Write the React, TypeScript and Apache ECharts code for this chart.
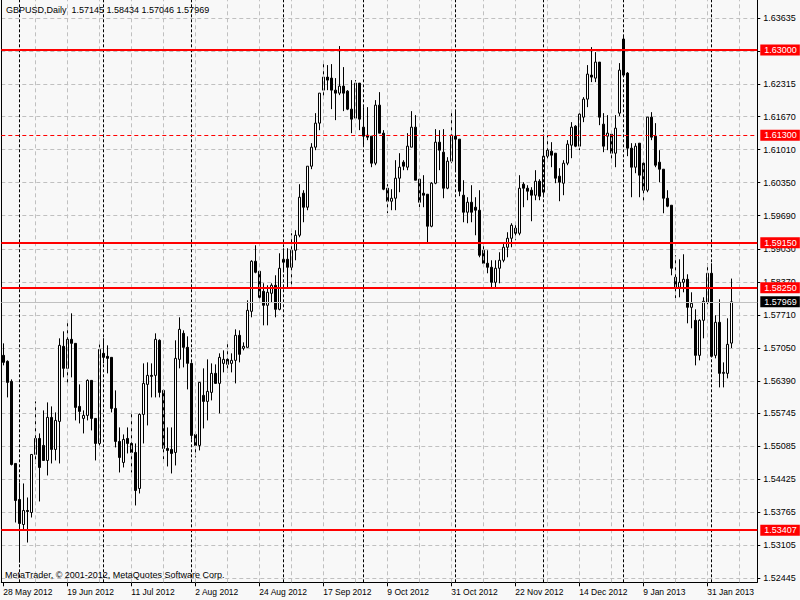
import React, { useEffect, useRef } from "react";
import * as echarts from "echarts";

const symbolName = "GBPUSD,Daily";
const copyright = "MetaTrader, \u00a9 2001-2012, MetaQuotes Software Corp.";

const opens = [
  1.5690, 1.5678, 1.5638, 1.5474, 1.5402, 1.5352, 1.5380, 1.5376, 1.5492, 1.5524,
  1.5510, 1.5480, 1.5566, 1.5502, 1.5558, 1.5708, 1.5664, 1.5722, 1.5714, 1.5588,
  1.5564, 1.5570, 1.5640, 1.5564, 1.5514, 1.5694, 1.5688, 1.5686, 1.5584, 1.5518,
  1.5476, 1.5524, 1.5514, 1.5496, 1.5424, 1.5572, 1.5632, 1.5650, 1.5650, 1.5720,
  1.5620, 1.5504, 1.5502, 1.5496, 1.5682, 1.5734, 1.5706, 1.5674, 1.5532, 1.5510,
  1.5610, 1.5598, 1.5616, 1.5654, 1.5634, 1.5674, 1.5682, 1.5674, 1.5680, 1.5730,
  1.5704, 1.5706, 1.5778, 1.5878, 1.5858, 1.5818, 1.5790, 1.5814, 1.5830, 1.5782,
  1.5876, 1.5882, 1.5866, 1.5900, 1.5930, 1.6014, 1.5986, 1.6068, 1.6106, 1.6154,
  1.6220, 1.6246, 1.6244, 1.6220, 1.6214, 1.6228, 1.6218, 1.6182, 1.6164, 1.6234,
  1.6146, 1.6130, 1.6128, 1.6074, 1.6190, 1.6134, 1.6024, 1.5998, 1.6004, 1.6044,
  1.6076, 1.6066, 1.6106, 1.6146, 1.6042, 1.6014, 1.6012, 1.5948, 1.6034, 1.6116,
  1.6096, 1.6024, 1.6078, 1.6128, 1.6122, 1.6010, 1.5976, 1.5996, 1.5986, 1.5980,
  1.5900, 1.5874, 1.5866, 1.5836, 1.5864, 1.5880, 1.5906, 1.5924, 1.5944, 1.5934,
  1.6032, 1.6024, 1.6020, 1.6010, 1.6038, 1.6016, 1.6088, 1.6098, 1.6094, 1.6048,
  1.6034, 1.6074, 1.6110, 1.6148, 1.6108, 1.6166, 1.6202, 1.6250, 1.6244, 1.6276,
  1.6152, 1.6128, 1.6132, 1.6094, 1.6174, 1.6322, 1.6254, 1.6104, 1.6066, 1.6114,
  1.6074, 1.6020, 1.6166, 1.6128, 1.6076, 1.6062, 1.6004, 1.5990, 1.5846, 1.5826,
  1.5836, 1.5842, 1.5786, 1.5760, 1.5690, 1.5760, 1.5796, 1.5854, 1.5690, 1.5756,
  1.5654, 1.5654, 1.57145,
];

const highs = [
  1.5714, 1.5680, 1.5642, 1.5474, 1.5436, 1.5434, 1.5406, 1.5492, 1.5598, 1.5534,
  1.5580, 1.5596, 1.5588, 1.5576, 1.5724, 1.5738, 1.5756, 1.5774, 1.5714, 1.5632,
  1.5580, 1.5642, 1.5640, 1.5564, 1.5712, 1.5724, 1.5710, 1.5686, 1.5620, 1.5546,
  1.5532, 1.5546, 1.5574, 1.5514, 1.5574, 1.5674, 1.5676, 1.5674, 1.5734, 1.5722,
  1.5622, 1.5546, 1.5546, 1.5720, 1.5766, 1.5740, 1.5728, 1.5676, 1.5532, 1.5636,
  1.5664, 1.5682, 1.5674, 1.5672, 1.5694, 1.5700, 1.5716, 1.5694, 1.5742, 1.5740,
  1.5716, 1.5800, 1.5880, 1.5910, 1.5858, 1.5834, 1.5830, 1.5834, 1.5850, 1.5894,
  1.5904, 1.5904, 1.5934, 1.5940, 1.6032, 1.6020, 1.6068, 1.6114, 1.6174, 1.6214,
  1.6274, 1.6270, 1.6272, 1.6244, 1.6308, 1.6266, 1.6220, 1.6240, 1.6240, 1.6234,
  1.6186, 1.6186, 1.6128, 1.6200, 1.6216, 1.6140, 1.6032, 1.6022, 1.6080, 1.6094,
  1.6080, 1.6134, 1.6178, 1.6170, 1.6042, 1.6050, 1.6012, 1.6036, 1.6142, 1.6140,
  1.6142, 1.6086, 1.6180, 1.6180, 1.6122, 1.6040, 1.6006, 1.6030, 1.6006, 1.6020,
  1.5914, 1.5900, 1.5880, 1.5880, 1.5896, 1.5914, 1.5936, 1.5954, 1.5956, 1.6050,
  1.6036, 1.6030, 1.6026, 1.6060, 1.6042, 1.6130, 1.6130, 1.6116, 1.6094, 1.6064,
  1.6080, 1.6120, 1.6156, 1.6150, 1.6176, 1.6206, 1.6270, 1.6306, 1.6296, 1.6276,
  1.6174, 1.6170, 1.6136, 1.6170, 1.6274, 1.6326, 1.6256, 1.6114, 1.6114, 1.6114,
  1.6076, 1.6166, 1.6176, 1.6154, 1.6100, 1.6062, 1.6020, 1.5990, 1.5890, 1.5882,
  1.5892, 1.5852, 1.5816, 1.5782, 1.5762, 1.5806, 1.5874, 1.5874, 1.5770, 1.5802,
  1.5676, 1.5764, 1.58434,
];

const lows = [
  1.5670, 1.5606, 1.5470, 1.5356, 1.5276, 1.5340, 1.5316, 1.5366, 1.5474, 1.5398,
  1.5480, 1.5450, 1.5474, 1.5480, 1.5474, 1.5646, 1.5632, 1.5646, 1.5560, 1.5554,
  1.5534, 1.5560, 1.5540, 1.5480, 1.5508, 1.5674, 1.5654, 1.5576, 1.5506, 1.5456,
  1.5466, 1.5494, 1.5456, 1.5390, 1.5414, 1.5514, 1.5550, 1.5606, 1.5606, 1.5606,
  1.5482, 1.5468, 1.5454, 1.5470, 1.5664, 1.5666, 1.5622, 1.5522, 1.5486, 1.5500,
  1.5544, 1.5560, 1.5600, 1.5634, 1.5574, 1.5656, 1.5656, 1.5656, 1.5634, 1.5676,
  1.5700, 1.5706, 1.5766, 1.5854, 1.5800, 1.5750, 1.5750, 1.5796, 1.5766, 1.5780,
  1.5856, 1.5826, 1.5826, 1.5880, 1.5926, 1.5956, 1.5980, 1.6062, 1.6100, 1.6140,
  1.6208, 1.6220, 1.6182, 1.6160, 1.6210, 1.6178, 1.6180, 1.6134, 1.6162, 1.6140,
  1.6110, 1.6120, 1.6066, 1.6070, 1.6134, 1.6020, 1.5974, 1.5980, 1.5980, 1.6016,
  1.6060, 1.6060, 1.6106, 1.6040, 1.5986, 1.5986, 1.5914, 1.5946, 1.6032, 1.6060,
  1.6004, 1.6022, 1.6074, 1.6056, 1.6008, 1.5956, 1.5954, 1.5956, 1.5930, 1.5886,
  1.5870, 1.5854, 1.5826, 1.5826, 1.5834, 1.5876, 1.5886, 1.5906, 1.5920, 1.5930,
  1.5986, 1.6000, 1.5958, 1.6000, 1.6000, 1.6006, 1.6080, 1.6066, 1.6034, 1.5998,
  1.6010, 1.6070, 1.6084, 1.6106, 1.6100, 1.6156, 1.6186, 1.6236, 1.6236, 1.6150,
  1.6096, 1.6100, 1.6076, 1.6066, 1.6168, 1.6246, 1.6088, 1.6006, 1.6054, 1.6006,
  1.5992, 1.6016, 1.6120, 1.6066, 1.6036, 1.5974, 1.5986, 1.5850, 1.5804, 1.5806,
  1.5816, 1.5754, 1.5744, 1.5670, 1.5680, 1.5724, 1.5792, 1.5686, 1.5684, 1.5626,
  1.5626, 1.5644, 1.57046,
];

const closes = [
  1.5676, 1.5636, 1.5472, 1.5400, 1.5354, 1.5380, 1.5378, 1.5492, 1.5524, 1.5466,
  1.5480, 1.5566, 1.5502, 1.5560, 1.5710, 1.5664, 1.5722, 1.5714, 1.5586, 1.5578,
  1.5570, 1.5640, 1.5564, 1.5514, 1.5702, 1.5686, 1.5684, 1.5584, 1.5518, 1.5486,
  1.5522, 1.5514, 1.5496, 1.5420, 1.5572, 1.5634, 1.5650, 1.5648, 1.5722, 1.5616,
  1.5504, 1.5500, 1.5494, 1.5684, 1.5742, 1.5706, 1.5674, 1.5530, 1.5510, 1.5636,
  1.5598, 1.5618, 1.5654, 1.5634, 1.5686, 1.5682, 1.5672, 1.5680, 1.5730, 1.5692,
  1.5708, 1.5780, 1.5878, 1.5856, 1.5806, 1.5790, 1.5816, 1.5830, 1.5782, 1.5864,
  1.5882, 1.5866, 1.5900, 1.5930, 1.6006, 1.5986, 1.6068, 1.6106, 1.6154, 1.6214,
  1.6246, 1.6240, 1.6220, 1.6214, 1.6228, 1.6214, 1.6182, 1.6162, 1.6234, 1.6162,
  1.6128, 1.6126, 1.6074, 1.6190, 1.6134, 1.6022, 1.5998, 1.6004, 1.6044, 1.6066,
  1.6068, 1.6108, 1.6146, 1.6040, 1.5996, 1.6010, 1.5948, 1.6034, 1.6116, 1.6100,
  1.6024, 1.6078, 1.6130, 1.6122, 1.6018, 1.5976, 1.5996, 1.5976, 1.5980, 1.5890,
  1.5874, 1.5866, 1.5836, 1.5864, 1.5880, 1.5906, 1.5924, 1.5950, 1.5934, 1.6024,
  1.6024, 1.6018, 1.6010, 1.6038, 1.6008, 1.6088, 1.6100, 1.6090, 1.6044, 1.6036,
  1.6074, 1.6112, 1.6146, 1.6108, 1.6172, 1.6202, 1.6252, 1.6246, 1.6276, 1.6166,
  1.6108, 1.6134, 1.6094, 1.6144, 1.6260, 1.6250, 1.6104, 1.6066, 1.6108, 1.6050,
  1.6020, 1.6166, 1.6126, 1.6070, 1.6062, 1.6004, 1.5988, 1.5864, 1.5826, 1.5836,
  1.5842, 1.5786, 1.5794, 1.5690, 1.5760, 1.5798, 1.5854, 1.5688, 1.5756, 1.5654,
  1.5656, 1.5712, 1.57969,
];

const priceTicks = [
  1.52445, 1.53105, 1.53765, 1.54425, 1.55085, 1.55745, 1.5639, 1.5705, 1.5771,
  1.5837, 1.5903, 1.5969, 1.6035, 1.6101, 1.6167, 1.62315, 1.62975, 1.63635,
];

const solidLevels = [1.63, 1.5915, 1.5825, 1.53407];
const dashedLevels = [1.613];

const startDay = [2012, 4, 28];
const holidays = ["2012-12-25", "2013-01-01"];
const monthNames = ["Jan", "Feb", "Mar", "Apr", "May", "Jun", "Jul", "Aug", "Sep", "Oct", "Nov", "Dec"];
const shiftBars = 6;
const labelEvery = 16;
const gridEvery = 8;

const yMin = 1.52365;
const yMax = 1.64001;
const FONT = "'Liberation Sans', Arial, sans-serif";

function tradingDays(count: number): Date[] {
  const out: Date[] = [];
  let t = Date.UTC(startDay[0], startDay[1], startDay[2]);
  while (out.length < count) {
    const d = new Date(t);
    const wd = d.getUTCDay();
    const iso = d.toISOString().slice(0, 10);
    if (wd !== 0 && wd !== 6 && holidays.indexOf(iso) < 0) out.push(d);
    t += 86400000;
  }
  return out;
}

export default function App() {
  const ref = useRef<HTMLDivElement>(null);

  useEffect(() => {
    if (!ref.current) return;
    const chart = echarts.init(ref.current, undefined, { renderer: "svg" });
    const n = opens.length;
    const dates = tradingDays(n);
    const categories = dates.map(
      (d) => `${d.getUTCDate()} ${monthNames[d.getUTCMonth()]} ${d.getUTCFullYear()}`
    );
    for (let k = 1; k <= shiftBars; k++) categories.push(`pad${k}`);
    const total = categories.length;

    const separators: number[] = [];
    for (let i = 1; i < n; i++) {
      if (dates[i].getUTCMonth() !== dates[i - 1].getUTCMonth()) separators.push(i);
    }
    const gridX: number[] = [];
    for (let i = gridEvery; i < total; i += gridEvery) gridX.push(i);

    const candles = opens.map((o, i) => [o, closes[i], lows[i], highs[i]]);
    const last = n - 1;
    const f5 = (v: number) => v.toFixed(5);
    const header = `${symbolName}  ${f5(opens[last])} ${f5(highs[last])} ${f5(lows[last])} ${f5(closes[last])}`;
    const showLabel = (idx: number) => idx % labelEvery === 0 && idx < n;

    const levelLabel = (text: string, bg: string) => ({
      show: true,
      position: "end",
      distance: 3,
      formatter: text,
      color: "#ffffff",
      backgroundColor: bg,
      padding: [1, 3, 1, 4],
      fontSize: 9,
      lineHeight: 9,
      fontFamily: FONT,
    });

    chart.setOption({
      animation: false,
      backgroundColor: "#f8f8f8",
      textStyle: { fontFamily: FONT },
      title: [
        {
          text: header,
          left: 6,
          top: 5,
          padding: 0,
          textStyle: { fontSize: 9, fontWeight: "normal", color: "#000", fontFamily: FONT },
        },
        {
          text: copyright,
          left: 5,
          top: 570,
          padding: 0,
          textStyle: { fontSize: 9, fontWeight: "normal", color: "#000", fontFamily: FONT },
        },
      ],
      grid: { left: 1.3, right: 42.7, top: 0, bottom: 17.7, containLabel: false },
      xAxis: {
        type: "category",
        data: categories,
        boundaryGap: true,
        axisLine: { show: true, lineStyle: { color: "#000", width: 1 } },
        axisTick: {
          show: true,
          alignWithLabel: true,
          interval: (idx: number) => showLabel(idx),
          length: 4,
          lineStyle: { color: "#000" },
        },
        axisLabel: {
          interval: (idx: number) => showLabel(idx),
          align: "left",
          margin: 5,
          fontSize: 8.5,
          color: "#000",
          fontFamily: FONT,
        },
        splitLine: { show: false },
      },
      yAxis: [
        {
          type: "value",
          position: "right",
          min: yMin,
          max: yMax,
          scale: true,
          axisLine: { show: true, lineStyle: { color: "#000", width: 1 } },
          axisTick: { show: true, customValues: priceTicks, length: 3, lineStyle: { color: "#000" } },
          axisLabel: {
            customValues: priceTicks,
            formatter: (v: number) => v.toFixed(5),
            margin: 6,
            fontSize: 9,
            color: "#000",
            fontFamily: FONT,
          },
          splitLine: { show: true, lineStyle: { color: "#c0c0c0", type: [4, 3], width: 1 } },
        },
        {
          type: "value",
          position: "left",
          min: yMin,
          max: yMax,
          scale: true,
          axisLine: { show: true, lineStyle: { color: "#000", width: 1 } },
          axisTick: { show: false },
          axisLabel: { show: false },
          splitLine: { show: false },
        },
      ],
      series: [
        {
          type: "line",
          data: [],
          z: 1,
          silent: true,
          clip: false,
          markLine: {
            silent: true,
            symbol: ["none", "none"],
            precision: 5,
            animation: false,
            label: { show: false },
            data: [
              ...gridX.map((i) => ({
                xAxis: i,
                lineStyle: { color: "#c0c0c0", type: [4, 3], width: 1 },
                label: { show: false },
              })),
              ...separators.map((i) => ({
                xAxis: i,
                lineStyle: { color: "#000", type: [3, 2], width: 1 },
                label: { show: false },
              })),
              {
                yAxis: closes[last],
                lineStyle: { color: "#c0c0c0", type: "solid", width: 1 },
                label: levelLabel(f5(closes[last]), "#000000"),
              },
            ],
          },
        },
        {
          type: "candlestick",
          data: candles,
          z: 2,
          barWidth: 3,
          itemStyle: {
            color: "#ffffff",
            color0: "#000000",
            borderColor: "#000000",
            borderColor0: "#000000",
            borderWidth: 1,
          },
        },
        {
          type: "line",
          data: [],
          z: 5,
          silent: true,
          clip: false,
          markLine: {
            silent: true,
            symbol: ["none", "none"],
            precision: 5,
            animation: false,
            data: [
              ...solidLevels.map((v) => ({
                yAxis: v,
                lineStyle: { color: "#ff0000", type: "solid", width: 2 },
                label: levelLabel(f5(v), "#ff0000"),
              })),
              ...dashedLevels.map((v) => ({
                yAxis: v,
                lineStyle: { color: "#ff0000", type: [4, 3], width: 1 },
                label: levelLabel(f5(v), "#ff0000"),
              })),
            ],
          },
        },
      ],
    });

    return () => chart.dispose();
  }, []);

  return (
    <div
      ref={ref}
      style={{ position: "fixed", left: 0, top: 0, width: 800, height: 600 }}
    />
  );
}
